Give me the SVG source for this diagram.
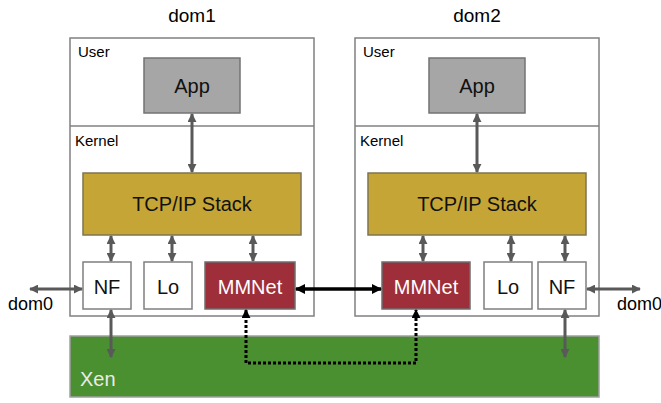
<svg xmlns="http://www.w3.org/2000/svg" width="661" height="403" viewBox="0 0 661 403">
<style>
text{font-family:"Liberation Sans",Arial,sans-serif}
.dom{fill:#fff;stroke:#808080;stroke-width:1.5}
.app{fill:#a6a6a6;stroke:#737373;stroke-width:1.5}
.tcp{fill:#c5a536;stroke:#7f7450;stroke-width:1.5}
.mm{fill:#9e2e39;stroke:#6e6e6e;stroke-width:1.5}
.wb{fill:#fff;stroke:#7f7f7f;stroke-width:1.5}
.xen{fill:#4a8f30;stroke:#a0a0a0;stroke-width:1.5}
.t20{font-size:20px;fill:#111;text-anchor:middle}
.w20{font-size:20px;fill:#fff;text-anchor:middle}
.lbl{font-size:15px;fill:#000}
.g{stroke:#595959;stroke-width:3;fill:none;marker-start:url(#ga);marker-end:url(#ga)}
.b{stroke:#000;stroke-width:3.5;fill:none;marker-start:url(#ba);marker-end:url(#ba)}
.d{stroke:#000;stroke-width:3;fill:none;stroke-dasharray:3 2;marker-start:url(#da);marker-end:url(#da)}
</style>
<defs>
<marker id="ga" markerUnits="userSpaceOnUse" viewBox="0 0 10 10" refX="9" refY="5" markerWidth="9" markerHeight="9" orient="auto-start-reverse"><path d="M0,0 L10,5 L0,10 z" fill="#595959"/></marker>
<marker id="ba" markerUnits="userSpaceOnUse" viewBox="0 0 10 10" refX="9" refY="5" markerWidth="10" markerHeight="10" orient="auto-start-reverse"><path d="M0,0 L10,5 L0,10 z" fill="#000"/></marker>
<marker id="da" markerUnits="userSpaceOnUse" viewBox="0 0 10 10" refX="9" refY="5" markerWidth="9" markerHeight="9" orient="auto"><path d="M0,0 L10,5 L0,10 z" fill="#000"/></marker>
</defs>
<text x="192" y="22" style="font-size:19px;text-anchor:middle;fill:#000">dom1</text>
<text x="477" y="22" style="font-size:19px;text-anchor:middle;fill:#000">dom2</text>
<g id="xen"><rect class="xen" x="70" y="336" width="529" height="61"/><text x="80" y="386" style="font-size:20px;fill:#eaeaea">Xen</text></g>
<g id="dom1">
<rect class="dom" x="70" y="38" width="244" height="278"/>
<line x1="70" y1="126" x2="314" y2="126" stroke="#808080" stroke-width="1.5"/>
<text class="lbl" x="78" y="57">User</text>
<text class="lbl" x="75" y="146">Kernel</text>
</g>
<g id="dom2">
<rect class="dom" x="355" y="38" width="244" height="278"/>
<line x1="355" y1="126" x2="599" y2="126" stroke="#808080" stroke-width="1.5"/>
<text class="lbl" x="363" y="57">User</text>
<text class="lbl" x="360" y="146">Kernel</text>
</g>
<g id="app1"><rect class="app" x="144" y="58" width="96" height="55"/><text class="t20" x="192" y="93">App</text></g>
<g id="app2"><rect class="app" x="429" y="58" width="96" height="55"/><text class="t20" x="477" y="93">App</text></g>
<g id="tcp1"><rect class="tcp" x="83" y="173" width="218" height="62"/><text class="t20" x="192" y="211">TCP/IP Stack</text></g>
<g id="tcp2"><rect class="tcp" x="368" y="173" width="218" height="62"/><text class="t20" x="477" y="211">TCP/IP Stack</text></g>
<g id="nf1"><rect class="wb" x="83" y="262" width="48" height="47"/><text class="t20" x="107" y="294">NF</text></g>
<g id="lo1"><rect class="wb" x="144" y="262" width="48" height="47"/><text class="t20" x="168" y="294">Lo</text></g>
<g id="mmnet1"><rect class="mm" x="205" y="262" width="90" height="47"/><text class="w20" x="250" y="294">MMNet</text></g>
<g id="mmnet2"><rect class="mm" x="382" y="262" width="88" height="47"/><text class="w20" x="426" y="294">MMNet</text></g>
<g id="lo2"><rect class="wb" x="484" y="262" width="48" height="47"/><text class="t20" x="508" y="294">Lo</text></g>
<g id="nf2"><rect class="wb" x="538" y="262" width="48" height="47"/><text class="t20" x="562" y="294">NF</text></g>
<g id="dom0a"><text x="8" y="310" style="font-size:18px;fill:#000">dom0</text></g>
<g id="dom0b"><text x="617" y="310" style="font-size:18px;fill:#000">dom0</text></g>
<g id="connectors">
<line class="g" x1="192" y1="114" x2="192" y2="172"/>
<line class="g" x1="477" y1="114" x2="477" y2="172"/>
<line class="g" x1="111" y1="236" x2="111" y2="261"/>
<line class="g" x1="172" y1="236" x2="172" y2="261"/>
<line class="g" x1="253" y1="236" x2="253" y2="261"/>
<line class="g" x1="423" y1="236" x2="423" y2="261"/>
<line class="g" x1="511" y1="236" x2="511" y2="261"/>
<line class="g" x1="565" y1="236" x2="565" y2="261"/>
<line class="g" x1="30" y1="289" x2="82" y2="289"/>
<line class="g" x1="587" y1="289" x2="640" y2="289"/>
<line class="g" x1="111" y1="310" x2="111" y2="357"/>
<line class="g" x1="565" y1="310" x2="565" y2="357"/>
<line class="b" x1="296" y1="289" x2="381" y2="289"/>
<path class="d" d="M246,310 V363 H416 V310" style="marker-start:url(#da2)"/>
</g>
<defs>
<marker id="da2" markerUnits="userSpaceOnUse" viewBox="0 0 10 10" refX="9" refY="5" markerWidth="9" markerHeight="9" orient="auto-start-reverse"><path d="M0,0 L10,5 L0,10 z" fill="#000"/></marker>
</defs>
</svg>
